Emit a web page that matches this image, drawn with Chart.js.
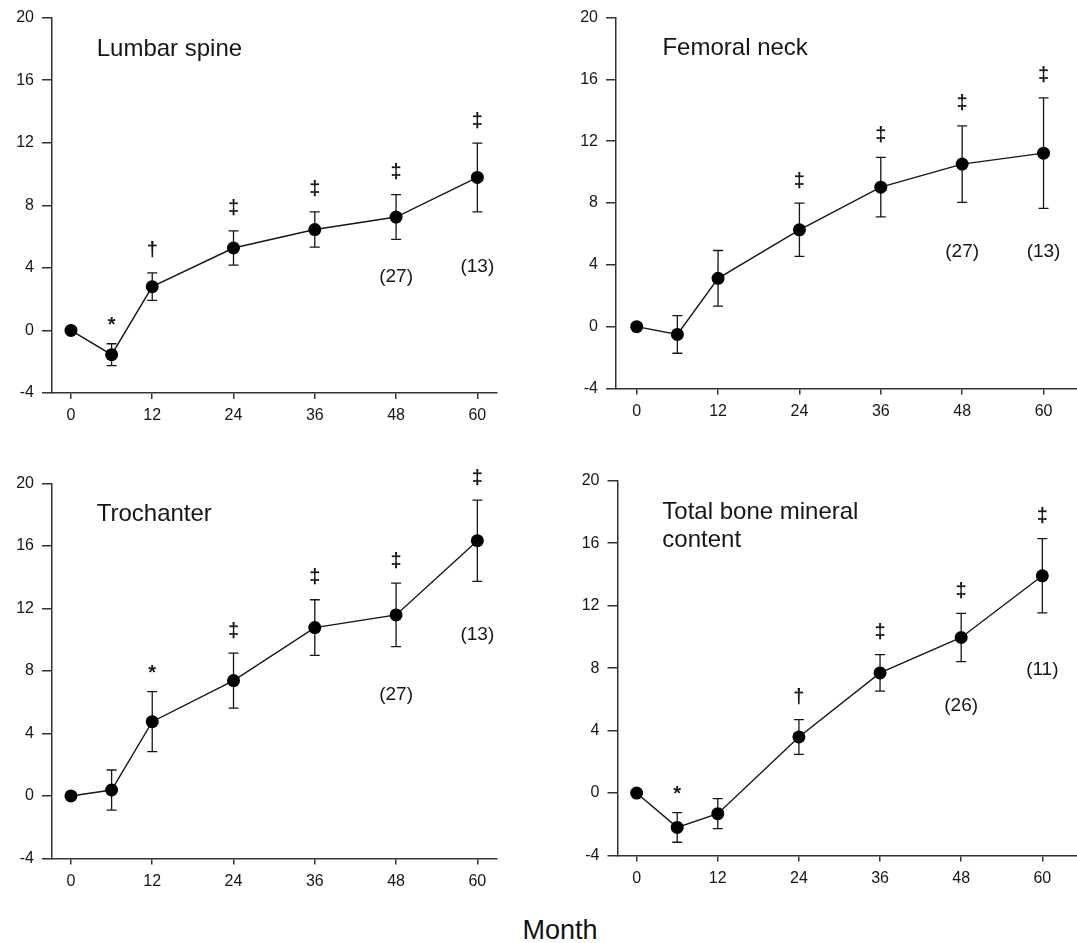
<!DOCTYPE html>
<html>
<head>
<meta charset="utf-8">
<title>Bone density change by month</title>
<script src="https://cdn.jsdelivr.net/npm/chart.js@4.4.1/dist/chart.umd.min.js"></script>
<style>
  html, body { margin: 0; padding: 0; background: #fff; overflow: hidden; }
  body { width: 1077px; height: 943px; position: relative; }
  .panel { position: absolute; }
  #month-label {
    position: absolute; left: 0; width: 1120px; top: 917px;
    text-align: center; font: 27px "Liberation Sans", Arial, sans-serif;
    line-height: 27px; color: #111;
  }
</style>
</head>
<body>
<div class="panel" style="left:0;top:0"><canvas id="lumbar" width="510" height="440"></canvas></div>
<div class="panel" style="left:540px;top:0"><canvas id="femoral" width="560" height="440"></canvas></div>
<div class="panel" style="left:0;top:460px"><canvas id="troch" width="510" height="440"></canvas></div>
<div class="panel" style="left:540px;top:460px"><canvas id="total" width="560" height="440"></canvas></div>
<div id="month-label">Month</div>

<script>
// months of follow-up and axis ticks
var months = [0, 6, 12, 24, 36, 48, 60];
var monthTicks = [0, 12, 24, 36, 48, 60];
var yMin = -4, yMax = 20, yStep = 4;

// % change from baseline, mean and SE
var lumbarMean = [0, -1.55, 2.8, 5.27, 6.45, 7.25, 9.78];
var lumbarSE = [0, 0.7, 0.88, 1.1, 1.13, 1.43, 2.2];
var lumbarSig = ['', '*', '\u2020', '\u2021', '\u2021', '\u2021', '\u2021'];
var lumbarN = [[48, '(27)', 3.4], [60, '(13)', 4.1]];

var femoralMean = [0, -0.5, 3.13, 6.27, 9.03, 10.52, 11.23];
var femoralSE = [0, 1.22, 1.8, 1.72, 1.93, 2.48, 3.57];
var femoralSig = ['', '', '', '\u2021', '\u2021', '\u2021', '\u2021'];
var femoralN = [[48, '(27)', 4.85], [60, '(13)', 4.85]];

var trochMean = [0, 0.38, 4.75, 7.38, 10.77, 11.58, 16.33];
var trochSE = [0, 1.28, 1.92, 1.76, 1.78, 2.03, 2.6];
var trochSig = ['', '', '*', '\u2021', '\u2021', '\u2021', '\u2021'];
var trochN = [[48, '(27)', 6.45], [60, '(13)', 10.3]];

var totalMean = [0, -2.2, -1.32, 3.59, 7.69, 9.96, 13.91];
var totalSE = [0, 0.95, 0.96, 1.11, 1.17, 1.55, 2.38];
var totalSig = ['', '*', '', '\u2020', '\u2021', '\u2021', '\u2021'];
var totalN = [[48, '(26)', 5.6], [60, '(11)', 7.9]];

var FONT = '"Liberation Sans", Arial, Helvetica, sans-serif';
var INK = '#161616';
var AXIS = '#333';

function makePanel(id, mean, se, sig, nLabels, title, box) {
  var pts = [];
  for (var i = 0; i < months.length; i++) pts.push({ x: months[i], y: mean[i] });

  // error bars, significance marks, n labels and the panel title
  var extras = {
    id: 'extras_' + id,
    beforeDatasetsDraw: function (chart) {
      var ctx = chart.ctx, xs = chart.scales.x, ys = chart.scales.y;
      ctx.save();
      ctx.strokeStyle = INK;
      ctx.lineWidth = 1.3;
      for (var i = 0; i < months.length; i++) {
        if (!se[i]) continue;
        var px = xs.getPixelForValue(months[i]);
        var top = ys.getPixelForValue(mean[i] + se[i]);
        var bot = ys.getPixelForValue(mean[i] - se[i]);
        ctx.beginPath();
        ctx.moveTo(px, top); ctx.lineTo(px, bot);
        ctx.moveTo(px - 5, top); ctx.lineTo(px + 5, top);
        ctx.moveTo(px - 5, bot); ctx.lineTo(px + 5, bot);
        ctx.stroke();
      }
      ctx.restore();
    },
    afterDatasetsDraw: function (chart) {
      var ctx = chart.ctx, xs = chart.scales.x, ys = chart.scales.y;
      ctx.save();
      ctx.fillStyle = INK;
      ctx.textAlign = 'center';
      ctx.textBaseline = 'middle';
      ctx.font = 'bold 20px ' + FONT;
      for (var i = 0; i < months.length; i++) {
        if (!sig[i]) continue;
        var px = xs.getPixelForValue(months[i]);
        var top = ys.getPixelForValue(mean[i] + se[i]);
        ctx.fillText(sig[i], px, sig[i] === '*' ? top - 18 : top - 22);
      }
      ctx.font = '19px ' + FONT;
      nLabels.forEach(function (n) {
        ctx.fillText(n[1], xs.getPixelForValue(n[0]), ys.getPixelForValue(n[2]));
      });
      ctx.textAlign = 'left';
      ctx.font = '24px ' + FONT;
      title.forEach(function (line, k) {
        ctx.fillText(line, xs.getPixelForValue(3.8), ys.getPixelForValue(18 - k * 1.8));
      });
      ctx.restore();
    }
  };

  var canvas = document.getElementById(id);
  new Chart(canvas, {
    type: 'line',
    data: {
      datasets: [{
        data: pts,
        borderColor: INK,
        borderWidth: 1.4,
        pointRadius: 6.5,
        pointHoverRadius: 6.5,
        pointBackgroundColor: '#000',
        pointBorderColor: '#000',
        pointBorderWidth: 0,
        tension: 0,
        fill: false
      }]
    },
    plugins: [extras],
    options: {
      responsive: false,
      animation: false,
      devicePixelRatio: 1,
      layout: { padding: { top: box.top, right: canvas.width - box.right, left: 0, bottom: 0 } },
      plugins: { legend: { display: false }, tooltip: { enabled: false } },
      scales: {
        x: {
          type: 'linear',
          min: box.xMin,
          max: box.xMax,
          afterBuildTicks: function (s) {
            s.ticks = monthTicks.map(function (v) { return { value: v }; });
          },
          afterFit: function (s) { s.height = canvas.height - box.bottom; },
          grid: { drawOnChartArea: false, drawTicks: true, tickLength: 6, color: AXIS, tickColor: AXIS, lineWidth: 1.5 },
          border: { display: true, color: AXIS, width: 1.5 },
          ticks: { color: INK, padding: 7, maxRotation: 0, autoSkip: false, font: { size: 16, family: FONT } }
        },
        y: {
          min: yMin,
          max: yMax,
          afterFit: function (s) { s.width = box.left; },
          grid: { drawOnChartArea: false, drawTicks: true, tickLength: 10, color: AXIS, tickColor: AXIS, lineWidth: 1.5 },
          border: { display: true, color: AXIS, width: 1.5 },
          ticks: { stepSize: yStep, color: INK, padding: 8, font: { size: 16, family: FONT } }
        }
      }
    }
  });
}

makePanel('lumbar', lumbarMean, lumbarSE, lumbarSig, lumbarN, ['Lumbar spine'],
  { left: 52, top: 16, right: 497, bottom: 393, xMin: -2.8, xMax: 62.9 });
makePanel('femoral', femoralMean, femoralSE, femoralSig, femoralN, ['Femoral neck'],
  { left: 76, top: 14, right: 551, bottom: 388.5, xMin: -3.05, xMax: 67 });
makePanel('troch', trochMean, trochSE, trochSig, trochN, ['Trochanter'],
  { left: 52, top: 23.3, right: 497, bottom: 398.5, xMin: -2.8, xMax: 62.9 });
makePanel('total', totalMean, totalSE, totalSig, totalN, ['Total bone mineral', 'content'],
  { left: 77.5, top: 20.7, right: 551, bottom: 395.5, xMin: -2.83, xMax: 67.2 });
</script>
</body>
</html>
